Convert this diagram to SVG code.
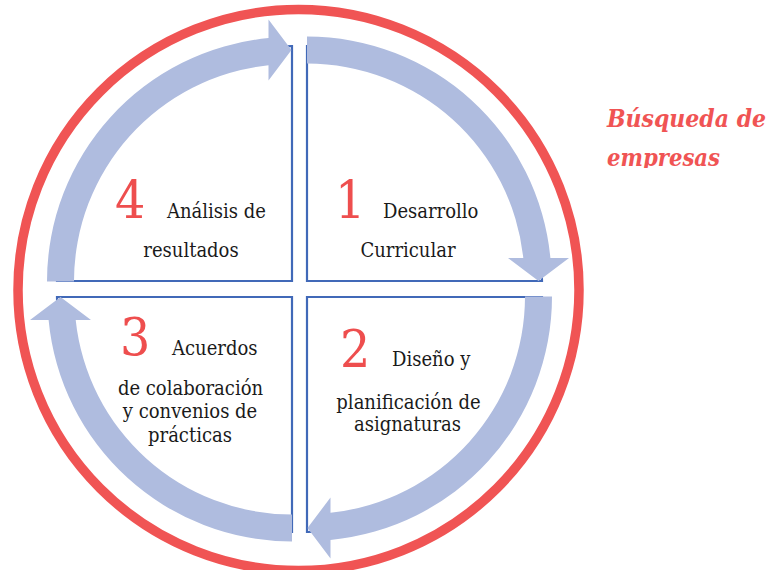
<svg xmlns="http://www.w3.org/2000/svg" xmlns:xlink="http://www.w3.org/1999/xlink" width="773" height="570" viewBox="0 0 773 570">
<style>
.sector{fill:#fff;stroke:#4169B8;stroke-width:2.2}
.arrow{fill:#AFBCDF}
text{font-family:'DejaVu Serif Condensed','DejaVu Serif',serif}
.num{font-size:53px;fill:#EE4E4E}
.lbl{font-size:20px;fill:#1a1a1a}
.side{font-size:25px;font-weight:bold;font-style:italic;fill:#F05454}
</style>
<defs>
<path id="arr" d="M307,36.5 A244.5,244.5 0 0 1 550.4,258 L569,258 L538.5,281 L508,258 L523.3,258 A217.5,217.5 0 0 0 307,63.5 Z"/>
<clipPath id="clipSide"><rect x="590" y="90" width="183" height="78"/></clipPath>
</defs>
<rect width="773" height="570" fill="#fff"/>
<circle cx="298.5" cy="290" r="280.5" fill="none" stroke="#F05454" stroke-width="9.5"/>
<g id="node1">
<path class="sector" d="M307,46 L307,281 L542,281 A235,235 0 0 0 307,46 Z"/>
<text class="num" x="335" y="218">1</text>
<text class="lbl" x="383" y="218">Desarrollo</text>
<text class="lbl" x="408" y="257" text-anchor="middle">Curricular</text>
</g>
<g id="node2">
<path class="sector" d="M307,297 L542,297 A235,235 0 0 1 307,532 Z"/>
<text class="num" x="340" y="367">2</text>
<text class="lbl" x="392" y="366">Diseño y</text>
<text class="lbl" x="408.5" y="409" text-anchor="middle">planificación de</text>
<text class="lbl" x="407.5" y="431" text-anchor="middle">asignaturas</text>
</g>
<g id="node3">
<path class="sector" d="M292,297 L292,532 A235,235 0 0 1 57,297 Z"/>
<text class="num" x="120" y="355">3</text>
<text class="lbl" x="172" y="355">Acuerdos</text>
<text class="lbl" x="190.5" y="395" text-anchor="middle">de colaboración</text>
<text class="lbl" x="190" y="418" text-anchor="middle">y convenios de</text>
<text class="lbl" x="190" y="442" text-anchor="middle">prácticas</text>
</g>
<g id="node4">
<path class="sector" d="M292,281 L57,281 A235,235 0 0 1 292,46 Z"/>
<text class="num" x="115" y="218">4</text>
<text class="lbl" x="167" y="218">Análisis de</text>
<text class="lbl" x="191" y="257" text-anchor="middle">resultados</text>
</g>
<g id="connectors">
<use xlink:href="#arr" href="#arr" class="arrow"/>
<use xlink:href="#arr" href="#arr" class="arrow" transform="rotate(90 299.5 289)"/>
<use xlink:href="#arr" href="#arr" class="arrow" transform="rotate(180 299.5 289)"/>
<use xlink:href="#arr" href="#arr" class="arrow" transform="rotate(270 299.5 289)"/>
</g>
<g id="label-side" clip-path="url(#clipSide)">
<text class="side" x="607" y="127" textLength="159" lengthAdjust="spacingAndGlyphs">Búsqueda de</text>
<text class="side" x="607" y="166" textLength="113" lengthAdjust="spacingAndGlyphs">empresas</text>
</g>
</svg>
